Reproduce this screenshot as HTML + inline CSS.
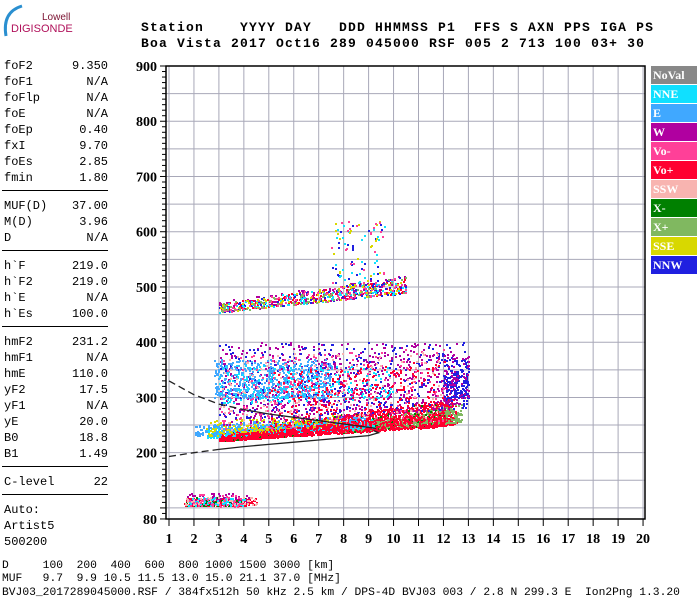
<!DOCTYPE html>
<html><head><meta charset="utf-8">
<style>
body{margin:0;background:#fff;width:700px;height:600px;overflow:hidden;position:relative;font-family:"Liberation Mono",monospace}
.m{position:absolute;font-family:"Liberation Mono",monospace;white-space:pre;color:#000}
.hd{font-size:13px;font-weight:bold;letter-spacing:1.2px;left:141px}
.lp{font-size:12px;left:4px;width:104px}
.lp span{float:right}
.hr{position:absolute;left:2px;width:106px;height:1px;background:#000}
.ft{font-size:11.3px;left:2px}
.lg{position:absolute;left:651px;width:46px;height:18px;font:bold 12px "Liberation Serif",serif;color:#fff;line-height:18px;padding-left:2px;box-sizing:border-box}
</style></head><body>
<svg width="80" height="42" style="position:absolute;left:0;top:0">
<path d="M22 6 Q2 12 6 36" stroke="#2a8fd0" stroke-width="3" fill="none"/>
<text x="42" y="20" font-family="Liberation Sans,sans-serif" font-size="10" fill="#7a1030">Lowell</text>
<text x="11" y="32" font-family="Liberation Sans,sans-serif" font-size="11" fill="#b0105a">DIGISONDE</text>
</svg>
<div class="m hd" style="top:20px">Station    YYYY DAY   DDD HHMMSS P1  FFS S AXN PPS IGA PS</div>
<div class="m hd" style="top:36px">Boa Vista 2017 Oct16 289 045000 RSF 005 2 713 100 03+ 30</div>

<div id="left"></div>

<svg id="plot" width="700" height="600" style="position:absolute;left:0;top:0"></svg>

<div class="lg" style="top:66px;background:#888">NoVal</div>
<div class="lg" style="top:85px;background:#10e0ff">NNE</div>
<div class="lg" style="top:104px;background:#40a8ff">E</div>
<div class="lg" style="top:123px;background:#b000a0">W</div>
<div class="lg" style="top:142px;background:#ff4098">Vo-</div>
<div class="lg" style="top:161px;background:#ff0030">Vo+</div>
<div class="lg" style="top:180px;background:#f8b4b0">SSW</div>
<div class="lg" style="top:199px;background:#008000">X-</div>
<div class="lg" style="top:218px;background:#80b860">X+</div>
<div class="lg" style="top:237px;background:#d8d800">SSE</div>
<div class="lg" style="top:256px;background:#2020e0">NNW</div>

<div class="m ft" style="top:560px">D     100  200  400  600  800 1000 1500 3000 [km]</div>
<div class="m ft" style="top:573px">MUF   9.7  9.9 10.5 11.5 13.0 15.0 21.1 37.0 [MHz]</div>
<div class="m ft" style="top:587px">BVJ03_2017289045000.RSF / 384fx512h 50 kHz 2.5 km / DPS-4D BVJ03 003 / 2.8 N 299.3 E  Ion2Png 1.3.20</div>

<script>
// left panel data
const paramNames=["foF2","foF1","foFlp","foE","foEp","fxI","foEs","fmin","|","MUF(D)","M(D)","D","|","h`F","h`F2","h`E","h`Es","|","hmF2","hmF1","hmE","yF2","yF1","yE","B0","B1","|","C-level","|","Auto:","Artist5","500200"];
const paramValues=["9.350","N/A","N/A","N/A","0.40","9.70","2.85","1.80","","37.00","3.96","N/A","","219.0","219.0","N/A","100.0","","231.2","N/A","110.0","17.5","N/A","20.0","18.8","1.49","","22","","","",""];
const left=document.getElementById('left');
let yy=59;
for(let i=0;i<paramNames.length;i++){
  if(paramNames[i]==="|"){const h=document.createElement('div');h.className='hr';h.style.top=(yy+3)+'px';
    
    
    left.appendChild(h);yy+=12;continue;}
  const d=document.createElement('div');d.className='m lp';d.style.top=yy+'px';
  d.innerHTML=paramNames[i]+'<span>'+paramValues[i]+'</span>';
  
  
  left.appendChild(d);yy+=16;
}

// chart axes
const xTicks=[1,2,3,4,5,6,7,8,9,10,11,12,13,14,15,16,17,18,19,20];
const yTicks=[900,800,700,600,500,400,300,200,80];
const gridH=[100,150,200,250,300,350,400,450,500,550,600,650,700,750,800,850];
// echo layers: fStart,fEnd, hLoStart,hHiStart, hLoEnd,hHiEnd, count
const layerFreqStart=[3,8,3,2.5,2,2.5,3,3,2.8,3,3,3,5,12,12,3,3,3,3,3,3,3,7.5,7.5,7.5,7.5,1.6,1.6,1.6,1.6,1.6,1.8,3];
const layerFreqEnd=[12.5,12.7,12,9.3,9,8,12.5,13,7.5,10,12,12,12.3,13,13,10.5,10.5,10.5,10.5,10.5,10.5,10.5,9.6,9.6,9.6,9.6,4.5,4.2,4,4.5,4,4,12];
const layerLoStart=[222,238,222,228,230,230,250,262,300,290,240,240,240,300,290,455,455,455,455,455,455,455,500,500,500,500,105,108,105,106,105,104,222];
const layerHiStart=[236,250,240,245,250,260,400,400,370,360,380,380,350,370,380,470,475,470,470,470,470,470,620,620,620,620,118,128,120,120,120,125,232];
const layerLoEnd=[252,256,250,245,250,250,280,280,300,300,260,260,260,300,290,490,490,490,490,490,490,490,500,500,500,500,105,108,105,106,105,104,248];
const layerHiEnd=[300,290,295,262,270,270,400,400,370,360,390,390,370,370,380,520,525,520,520,520,520,520,620,620,620,620,118,128,120,120,120,125,275];
const layerCount=[1700,500,170,420,360,200,650,380,550,240,260,200,300,150,70,170,140,90,100,90,70,70,35,30,25,25,230,90,60,70,50,40,700];
const layerColor=["#ff0030","#80b860","#008000","#10e0ff","#40a8ff","#d8d800","#b000a0","#2020e0","#40a8ff","#10e0ff","#ff4098","#f8b4b0","#ff0030","#2020e0","#b000a0","#ff0030","#b000a0","#2020e0","#10e0ff","#ff4098","#d8d800","#80b860","#2020e0","#10e0ff","#d8d800","#ff4098","#ff0030","#b000a0","#008000","#f8b4b0","#10e0ff","#ff4098","#ff0030"];
// profile curves
const upperCurveF=[1,2,3,4,5,6,7,8,9,9.3];
const upperCurveH=[330,305,288,278,270,264,258,252,246,244];
const lowerCurveF=[1,2,3,4,5,6,7,8,9,9.4,9.2];
const lowerCurveH=[193,200,206,211,215,219,223,227,231,236,240];

const X=f=>169+(f-1)*24.95;
const Y=h=>66+(900-h)*0.5524;
const svg=document.getElementById('plot');
const NS='http://www.w3.org/2000/svg';
function mk(t,a){const e=document.createElementNS(NS,t);for(const k in a)e.setAttribute(k,a[k]);svg.appendChild(e);return e;}

// grid
for(const f of xTicks){const l=mk('line',{x1:X(f),x2:X(f),y1:66,y2:519,stroke:'#a8a8b8','stroke-width':1});
  
  }
for(const h of gridH){const l=mk('line',{x1:166,x2:645,y1:Y(h),y2:Y(h),stroke:'#a8a8b8','stroke-width':1});
  
  }

// texture generator (deterministic)
let s=12345;
function rnd(){s=(s*1103515245+12345)&0x7fffffff;return s/0x7fffffff;}
const g=mk('g',{});


for(let i=0;i<layerColor.length;i++){
  for(let k=0;k<layerCount[i];k++){
    const t=rnd();const f=layerFreqStart[i]+t*(layerFreqEnd[i]-layerFreqStart[i]);
    const lo=layerLoStart[i]+t*(layerLoEnd[i]-layerLoStart[i]);
    const hi=layerHiStart[i]+t*(layerHiEnd[i]-layerHiStart[i]);
    const u=rnd();const h=lo+Math.pow(u,1.3)*(hi-lo);
    const r=document.createElementNS(NS,'rect');
    r.setAttribute('x',Math.round(X(f)));r.setAttribute('y',Math.round(Y(h)));
    r.setAttribute('width',2);r.setAttribute('height',2);r.setAttribute('fill',layerColor[i]);
    
    
    g.appendChild(r);
  }
}
// curves
function curve(F,H,name){
  const pd=F.map((f,i)=>(i?'L':'M')+X(f).toFixed(1)+' '+Y(H[i]).toFixed(1)).join(' ');
  const p=mk('path',{d:pd,stroke:'#222',fill:'none','stroke-width':1.3});
  
  
  return p;
}
const c1=curve(upperCurveF.slice(0,4),upperCurveH.slice(0,4),'profile-upper-dashed');c1.setAttribute('stroke-dasharray','7 4');
curve(upperCurveF.slice(3),upperCurveH.slice(3),'profile-upper');
const c2=curve(lowerCurveF.slice(0,3),lowerCurveH.slice(0,3),'profile-lower-dashed');c2.setAttribute('stroke-dasharray','7 4');
curve(lowerCurveF.slice(2),lowerCurveH.slice(2),'profile-lower');

// frame
const fr=mk('path',{d:'M166 66 L645 66 L645 519 L166 519 Z',stroke:'#000',fill:'none','stroke-width':1.5});


// y ticks
for(let h=80;h<=900;h+=10){const major=h%100===0||h===80;
  const l=mk('line',{x1:major?160:162,x2:166,y1:Y(h),y2:Y(h),stroke:'#000','stroke-width':1});
  
  }
for(const h of yTicks){const t=mk('text',{x:157,y:Y(h)+5,'text-anchor':'end','font-family':'Liberation Serif,serif','font-weight':'bold','font-size':14});
  t.textContent=h;
  
  }
for(const f of xTicks){
  const l=mk('line',{x1:X(f),x2:X(f),y1:519,y2:526,stroke:'#000','stroke-width':1});
  
  
  const t=mk('text',{x:X(f),y:543,'text-anchor':'middle','font-family':'Liberation Serif,serif','font-weight':'bold','font-size':14});
  t.textContent=f;
  
  }
</script>
</body></html>
